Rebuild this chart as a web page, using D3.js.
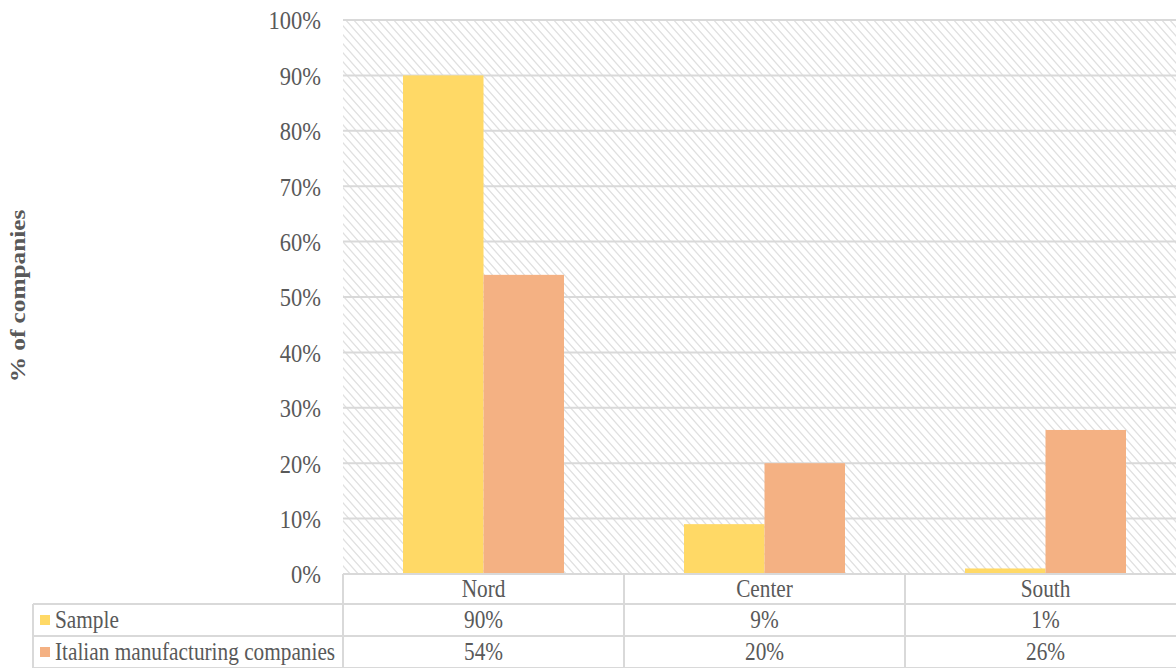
<!DOCTYPE html>
<html>
<head>
<meta charset="utf-8">
<script src="https://cdn.jsdelivr.net/npm/d3@7"></script>
<style>
  html, body { margin: 0; padding: 0; background: #fff; }
  svg { display: block; }
  text { font-family: "Liberation Serif", "Times New Roman", serif; fill: #595959; }
</style>
</head>
<body>
<svg id="chart" width="1176" height="668"></svg>
<script>
const categories = ["Nord", "Center", "South"];
const seriesNames = ["Sample", "Italian manufacturing companies"];
const sampleValues = [90, 9, 1];
const italianValues = [54, 20, 26];
const yTicks = [0, 10, 20, 30, 40, 50, 60, 70, 80, 90, 100];
const seriesColors = ["#FFD966", "#F4B183"];

const series = [sampleValues, italianValues];

const svg = d3.select("#chart");
const plot = { left: 343, right: 1186, top: 20, bottom: 574 };
const rowH = [574, 604, 636, 668];
const tableLeft = 33;
const STRETCH = 1.15; // text appears vertically stretched in the reference

const defs = svg.append("defs");
const pat = defs.append("pattern")
  .attr("id", "hatch")
  .attr("patternUnits", "userSpaceOnUse")
  .attr("width", 8).attr("height", 9);
pat.append("path")
  .attr("d", "M-1,-1.125 L9,10.125 M-1,7.875 L1,10.125 M7,-1.125 L9,1.125")
  .attr("stroke", "#e0e0e0")
  .attr("stroke-width", 1.3);

const x0 = d3.scaleBand().domain(categories).range([plot.left, plot.right]);
const bw = x0.bandwidth();
const groupPad = 0.2135;
const xs = d3.scaleBand().domain(d3.range(series.length))
  .range([bw * groupPad, bw * (1 - groupPad)]);
const y = d3.scaleLinear().domain([0, 100]).range([plot.bottom, plot.top]);

function label(parent, x, yy, str, size, anchor, weight) {
  const g = parent.append("g").attr("transform", `translate(${x},${yy}) scale(1,${STRETCH})`);
  g.append("text")
    .attr("text-anchor", anchor || "start")
    .attr("dy", "0.34em")
    .style("font-size", size + "px")
    .style("font-weight", weight || "normal")
    .text(str);
  return g;
}

svg.append("rect")
  .attr("x", plot.left).attr("y", plot.top)
  .attr("width", plot.right - plot.left).attr("height", plot.bottom - plot.top)
  .attr("fill", "url(#hatch)");

svg.append("g").selectAll("line").data(yTicks.filter(d => d > 0)).join("line")
  .attr("x1", plot.left).attr("x2", plot.right)
  .attr("y1", d => y(d)).attr("y2", d => y(d))
  .attr("stroke", "#d9d9d9").attr("stroke-width", 2);

categories.forEach((c, ci) => {
  series.forEach((vals, si) => {
    svg.append("rect")
      .attr("x", x0(c) + xs(si))
      .attr("width", xs.bandwidth())
      .attr("y", y(vals[ci]))
      .attr("height", y(0) - y(vals[ci]))
      .attr("fill", seriesColors[si]);
  });
});

const yAxis = d3.axisLeft(y).tickValues(yTicks).tickFormat(d => d + "%").tickSize(0).tickPadding(0);
const ga = svg.append("g").attr("transform", `translate(321,0)`).call(yAxis);
ga.select(".domain").remove();
ga.selectAll(".tick text").remove();
ga.selectAll(".tick").each(function(d) {
  const g = d3.select(this).append("g").attr("transform", `scale(1,${STRETCH})`);
  g.append("text")
    .attr("text-anchor", "end").attr("dy", "0.34em")
    .attr("fill", "#595959")
    .style("font-family", '"Liberation Serif", "Times New Roman", serif')
    .style("font-size", "22.5px")
    .text(d + "%");
});

svg.append("text")
  .attr("transform", `translate(25,${(plot.top + plot.bottom) / 2 - 1}) rotate(-90) scale(${STRETCH},1)`)
  .attr("text-anchor", "middle")
  .style("font-size", "22px").style("font-weight", "bold")
  .text("% of companies");

const tg = svg.append("g");
const lineColor = "#d9d9d9";
tg.append("line").attr("x1", plot.left).attr("x2", plot.right).attr("y1", rowH[0]).attr("y2", rowH[0])
  .attr("stroke", lineColor).attr("stroke-width", 2);
[rowH[1], rowH[2], rowH[3]].forEach(yy => {
  tg.append("line").attr("x1", tableLeft).attr("x2", plot.right).attr("y1", yy).attr("y2", yy)
    .attr("stroke", lineColor).attr("stroke-width", 2);
});
tg.append("line").attr("x1", tableLeft).attr("x2", tableLeft).attr("y1", rowH[1]).attr("y2", rowH[3])
  .attr("stroke", lineColor).attr("stroke-width", 2);
categories.forEach(c => {
  tg.append("line").attr("x1", x0(c)).attr("x2", x0(c)).attr("y1", rowH[0]).attr("y2", rowH[3])
    .attr("stroke", lineColor).attr("stroke-width", 2);
});
tg.append("line").attr("x1", plot.right).attr("x2", plot.right).attr("y1", rowH[0]).attr("y2", rowH[3])
  .attr("stroke", lineColor).attr("stroke-width", 2);

categories.forEach(c => {
  label(tg, x0(c) + bw / 2, (rowH[0] + rowH[1]) / 2, c, 21.3, "middle");
});
series.forEach((vals, si) => {
  const cy = (rowH[si + 1] + rowH[si + 2]) / 2;
  tg.append("rect").attr("x", 40).attr("y", cy - 5).attr("width", 10).attr("height", 10)
    .attr("fill", seriesColors[si]);
  label(tg, 55, cy, seriesNames[si], 21.3, "start");
  categories.forEach((c, ci) => {
    label(tg, x0(c) + bw / 2, cy, vals[ci] + "%", 21.3, "middle");
  });
});
</script>
</body>
</html>
